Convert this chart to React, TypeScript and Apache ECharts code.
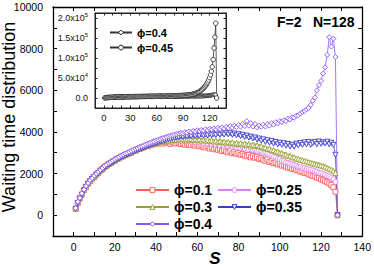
import React, { useEffect, useRef } from 'react';
import * as echarts from 'echarts';

// s = 1..128 (site index)
const sValues: number[] = Array.from({ length: 128 }, (_, i) => i + 1);

const phi01: number[] = [
  310, 590, 810, 990, 1210, 1360, 1520, 1630, 1760, 1840,
  1960, 2030, 2150, 2210, 2320, 2380, 2460, 2500, 2590, 2620,
  2710, 2730, 2810, 2830, 2910, 2920, 2990, 3010, 3090, 3100,
  3170, 3180, 3250, 3260, 3330, 3320, 3400, 3380, 3440, 3430,
  3460, 3490, 3440, 3520, 3480, 3500, 3430, 3510, 3470, 3450,
  3490, 3420, 3460, 3380, 3450, 3400, 3360, 3430, 3340, 3390,
  3310, 3360, 3280, 3250, 3320, 3200, 3260, 3170, 3230, 3140,
  3190, 3080, 3130, 3060, 3020, 3090, 2980, 3030, 2950, 2990,
  2900, 2940, 2870, 2830, 2890, 2780, 2840, 2760, 2800, 2700,
  2740, 2660, 2610, 2680, 2560, 2590, 2500, 2530, 2440, 2470,
  2380, 2400, 2330, 2290, 2310, 2220, 2250, 2160, 2180, 2090,
  2110, 2020, 2040, 1960, 1940, 1880, 1870, 1800, 1790, 1720,
  1700, 1630, 1590, 1520, 1450, 1340, 1130, 0,
];

const phi025: number[] = [
  330, 610, 790, 1010, 1190, 1380, 1500, 1650, 1740, 1860,
  1940, 2060, 2130, 2240, 2300, 2400, 2440, 2530, 2570, 2650,
  2690, 2760, 2790, 2860, 2890, 2950, 2970, 3040, 3070, 3130,
  3150, 3210, 3230, 3290, 3310, 3370, 3380, 3430, 3440, 3490,
  3500, 3530, 3520, 3560, 3540, 3590, 3550, 3600, 3570, 3620,
  3580, 3610, 3560, 3600, 3550, 3590, 3530, 3570, 3510, 3560,
  3500, 3540, 3470, 3520, 3450, 3490, 3430, 3460, 3400, 3440,
  3370, 3410, 3340, 3380, 3310, 3350, 3280, 3320, 3250, 3290,
  3220, 3260, 3190, 3230, 3160, 3200, 3130, 3150, 3090, 3120,
  3060, 3000, 3030, 2940, 2900, 2850, 2800, 2770, 2700, 2680,
  2610, 2600, 2530, 2510, 2470, 2440, 2410, 2380, 2330, 2320,
  2280, 2260, 2220, 2200, 2170, 2150, 2110, 2090, 2040, 2020,
  1970, 1940, 1880, 1840, 1780, 1720, 1600, 0,
];

const phi03: number[] = [
  310, 600, 820, 1000, 1220, 1360, 1520, 1640, 1760, 1840,
  1960, 2040, 2150, 2220, 2320, 2380, 2460, 2510, 2590, 2630,
  2710, 2740, 2810, 2840, 2910, 2930, 2990, 3020, 3090, 3110,
  3170, 3190, 3250, 3270, 3330, 3350, 3400, 3410, 3460, 3470,
  3520, 3510, 3570, 3560, 3610, 3590, 3640, 3610, 3660, 3630,
  3670, 3640, 3680, 3630, 3670, 3620, 3660, 3610, 3650, 3600,
  3640, 3590, 3630, 3580, 3620, 3560, 3600, 3540, 3580, 3520,
  3560, 3500, 3540, 3480, 3520, 3460, 3500, 3440, 3480, 3420,
  3460, 3400, 3440, 3380, 3420, 3350, 3390, 3330, 3370, 3300,
  3320, 3240, 3260, 3180, 3200, 3120, 3130, 3050, 3060, 2980,
  2990, 2920, 2920, 2850, 2850, 2780, 2780, 2720, 2710, 2660,
  2650, 2600, 2590, 2540, 2530, 2490, 2470, 2440, 2420, 2390,
  2360, 2330, 2280, 2240, 2190, 2130, 2030, 0,
];

const phi035: number[] = [
  300, 580, 790, 980, 1180, 1350, 1490, 1620, 1730, 1830,
  1930, 2020, 2110, 2200, 2280, 2360, 2420, 2490, 2550, 2610,
  2670, 2720, 2770, 2820, 2870, 2910, 2960, 3000, 3050, 3090,
  3130, 3170, 3210, 3250, 3290, 3330, 3360, 3400, 3430, 3470,
  3500, 3540, 3560, 3600, 3620, 3660, 3670, 3710, 3720, 3750,
  3740, 3790, 3760, 3820, 3780, 3840, 3790, 3860, 3800, 3850,
  3810, 3880, 3820, 3870, 3830, 3900, 3840, 3890, 3850, 3920,
  3860, 3930, 3870, 3960, 3880, 3940, 3860, 3920, 3840, 3890,
  3800, 3860, 3760, 3820, 3720, 3770, 3680, 3730, 3630, 3680,
  3580, 3640, 3520, 3600, 3480, 3560, 3440, 3520, 3400, 3480,
  3380, 3460, 3340, 3420, 3300, 3380, 3290, 3440, 3350, 3470,
  3380, 3500, 3400, 3520, 3380, 3460, 3520, 3410, 3540, 3430,
  3500, 3440, 3530, 3400, 3480, 3380, 2900, 0,
];

const phi04: number[] = [
  340, 640, 830, 1050, 1230, 1400, 1540, 1680, 1780, 1890,
  1990, 2090, 2180, 2270, 2360, 2430, 2500, 2560, 2630, 2690,
  2750, 2800, 2860, 2900, 2960, 3000, 3040, 3090, 3140, 3190,
  3230, 3280, 3310, 3350, 3400, 3440, 3470, 3520, 3550, 3590,
  3620, 3660, 3700, 3720, 3760, 3790, 3820, 3840, 3870, 3900,
  3920, 3950, 3930, 3990, 3960, 4020, 3990, 4050, 4010, 4080,
  4040, 4100, 4060, 4130, 4080, 4150, 4110, 4170, 4120, 4190,
  4140, 4220, 4160, 4240, 4190, 4280, 4200, 4300, 4230, 4330,
  4250, 4380, 4280, 4520, 4300, 4420, 4260, 4380, 4220, 4300,
  4240, 4350, 4260, 4380, 4300, 4420, 4350, 4470, 4400, 4520,
  4480, 4560, 4520, 4640, 4600, 4700, 4680, 4780, 4800, 4880,
  4950, 5000, 5080, 5150, 5300, 5500, 5650, 6000, 6250, 6450,
  6800, 7100, 7700, 8550, 8100, 8480, 7600, 0,
];

const phi045: number[] = [
  300, 620, 830, 1040, 1230, 1400, 1530, 1670, 1780, 1880,
  1980, 2080, 2170, 2260, 2350, 2420, 2490, 2560, 2620, 2690,
  2750, 2810, 2860, 2920, 2970, 3020, 3070, 3120, 3170, 3220,
  3260, 3310, 3350, 3400, 3440, 3480, 3520, 3560, 3600, 3640,
  3680, 3720, 3760, 3800, 3840, 3870, 3910, 3950, 3980, 4020,
  4050, 4090, 4120, 4160, 4190, 4230, 4260, 4300, 4330, 4370,
  4400, 4440, 4480, 4520, 4560, 4600, 4640, 4690, 4730, 4780,
  4820, 4870, 4920, 4970, 5020, 5080, 5140, 5200, 5260, 5330,
  5400, 5480, 5560, 5650, 5740, 5840, 5950, 6070, 6200, 6350,
  6500, 6680, 6870, 7080, 7300, 7550, 7830, 8150, 8500, 8900,
  9400, 9950, 10600, 11300, 12100, 13000, 14000, 15200, 16600, 18200,
  20000, 22000, 24300, 26800, 29500, 32500, 36000, 40000, 45000, 51000,
  58000, 67000, 78000, 96000, 125000, 152000, 187000, 0,
];

const seriesNames = ['ϕ=0.1', 'ϕ=0.25', 'ϕ=0.3', 'ϕ=0.35', 'ϕ=0.4'];
const insetNames = ['ϕ=0.4', 'ϕ=0.45'];
const mainXTicks = [0, 20, 40, 60, 80, 100, 120, 140];
const mainYTicks = [0, 2000, 4000, 6000, 8000, 10000];
const insetXTicks = [0, 30, 60, 90, 120];
const insetYLabels: Record<number, string> = {
  0: '0.0',
  50000: '{m|5.0x10}{e|4}',
  100000: '{m|1.0x10}{e|5}',
  150000: '{m|1.5x10}{e|5}',
  200000: '{m|2.0x10}{e|5}',
};

const FONT = '"Liberation Sans", Arial, Helvetica, sans-serif';

const App: React.FC = () => {
  const ref = useRef<HTMLDivElement>(null);

  useEffect(() => {
    if (!ref.current) return;
    const chart = echarts.init(ref.current, undefined, { renderer: 'svg' });

    const toPts = (arr: number[]) => arr.map((v, i) => [sValues[i], v]);

    const mainSeries = (
      name: string,
      arr: number[],
      color: string,
      symbol: string,
      rotate = 0,
    ) => ({
      type: 'line',
      name,
      data: toPts(arr),
      xAxisIndex: 0,
      yAxisIndex: 0,
      symbol,
      symbolSize: 5,
      symbolRotate: rotate,
      showSymbol: true,
      lineStyle: { color, width: 0.8 },
      itemStyle: { color: '#fff', borderColor: color, borderWidth: 0.9 },
      emphasis: { disabled: true },
      silent: true,
      z: 3,
    });

    const insetSeries = (name: string, arr: number[], symbol: string) => ({
      type: 'line',
      name,
      data: toPts(arr),
      xAxisIndex: 2,
      yAxisIndex: 2,
      symbol,
      symbolSize: 4.5,
      showSymbol: true,
      lineStyle: { color: '#333', width: 0.8 },
      itemStyle: { color: '#fff', borderColor: '#222', borderWidth: 0.8 },
      emphasis: { disabled: true },
      silent: true,
      z: 12,
    });

    const axisLine = { show: true, onZero: false, lineStyle: { color: '#000', width: 1.3 } };
    const insetLine = { show: true, onZero: false, lineStyle: { color: '#222', width: 1 } };
    const legendText = { fontFamily: FONT, fontSize: 14, fontWeight: 'bold', color: '#000' };
    const legendItem = { color: '#fff', borderWidth: 1 };

    chart.setOption({
      animation: false,
      backgroundColor: '#fff',
      textStyle: { fontFamily: FONT },
      grid: [
        { left: 53, right: 11, top: 7, bottom: 30 },
        {
          left: 95, right: 148, top: 13, bottom: 158, show: true,
          backgroundColor: '#fff', borderColor: '#222', borderWidth: 1, z: 10,
        },
      ],
      xAxis: [
        {
          type: 'value', gridIndex: 0, min: -10, max: 140, interval: 10,
          axisLine, splitLine: { show: false },
          axisTick: { inside: true, length: 4, lineStyle: { color: '#000' } },
          axisLabel: {
            fontSize: 10.5, color: '#000', margin: 5, fontFamily: FONT,
            formatter: (v: number) => (mainXTicks.includes(v) ? String(v) : ''),
          },
        },
        {
          type: 'value', gridIndex: 0, position: 'top', min: -10, max: 140, interval: 10,
          axisLine, splitLine: { show: false },
          axisTick: { inside: true, length: 4, lineStyle: { color: '#000' } },
          axisLabel: { show: false },
        },
        {
          type: 'value', gridIndex: 1, min: -10, max: 138.6, interval: 10, z: 13,
          axisLine: insetLine, splitLine: { show: false },
          axisTick: { inside: true, length: 2.5, lineStyle: { color: '#222' } },
          axisLabel: {
            fontSize: 9.5, color: '#111', margin: 4, fontFamily: FONT,
            formatter: (v: number) => (insetXTicks.includes(v) ? String(v) : ''),
          },
        },
        {
          type: 'value', gridIndex: 1, position: 'top', min: -10, max: 138.6, interval: 10, z: 13,
          axisLine: insetLine, splitLine: { show: false },
          axisTick: { inside: true, length: 2.5, lineStyle: { color: '#222' } },
          axisLabel: { show: false },
        },
      ],
      yAxis: [
        {
          type: 'value', gridIndex: 0, min: -1000, max: 10000, interval: 1000,
          axisLine, splitLine: { show: false },
          axisTick: { inside: true, length: 4, lineStyle: { color: '#000' } },
          axisLabel: {
            fontSize: 10.5, color: '#000', margin: 10, fontFamily: FONT,
            formatter: (v: number) => (mainYTicks.includes(v) ? String(v) : ''),
          },
        },
        {
          type: 'value', gridIndex: 0, position: 'right', min: -1000, max: 10000, interval: 1000,
          axisLine, splitLine: { show: false },
          axisTick: { inside: true, length: 4, lineStyle: { color: '#000' } },
          axisLabel: { show: false },
        },
        {
          type: 'value', gridIndex: 1, min: -25000, max: 212500, interval: 25000, z: 13,
          axisLine: insetLine, splitLine: { show: false },
          axisTick: { inside: true, length: 2.5, lineStyle: { color: '#222' } },
          axisLabel: {
            fontSize: 9, color: '#111', margin: 7, fontFamily: FONT,
            formatter: (v: number) => insetYLabels[v] ?? '',
            rich: {
              m: { fontSize: 9, fontFamily: FONT, color: '#111', lineHeight: 12 },
              e: { fontSize: 6, fontFamily: FONT, color: '#111', verticalAlign: 'top', lineHeight: 12 },
            },
          },
        },
        {
          type: 'value', gridIndex: 1, position: 'right', min: -25000, max: 212500, interval: 25000, z: 13,
          axisLine: insetLine, splitLine: { show: false },
          axisTick: { inside: true, length: 2.5, lineStyle: { color: '#222' } },
          axisLabel: { show: false },
        },
      ],
      legend: [
        {
          data: [seriesNames[0], seriesNames[2], seriesNames[4]],
          orient: 'vertical', left: 130, top: 178, itemWidth: 33, itemHeight: 6, itemGap: 3,
          textStyle: legendText, selectedMode: false, itemStyle: legendItem,
        },
        {
          data: [seriesNames[1], seriesNames[3]],
          orient: 'vertical', left: 212, top: 178, itemWidth: 33, itemHeight: 6, itemGap: 3,
          textStyle: legendText, selectedMode: false, itemStyle: legendItem,
        },
        {
          data: ['inset04', 'inset045'],
          formatter: (n: string) => (n === 'inset04' ? insetNames[0] : insetNames[1]),
          orient: 'vertical', left: 104, top: 22, itemWidth: 22, itemHeight: 6, itemGap: 4,
          textStyle: { fontFamily: FONT, fontSize: 11, fontWeight: 'bold', color: '#000' },
          selectedMode: false, z: 14, itemStyle: legendItem,
        },
      ],
      graphic: [
        {
          type: 'text', x: 9, y: 117, rotation: Math.PI / 2,
          style: {
            text: 'Waiting time distribution',
            fontFamily: FONT, fontSize: 18, fill: '#000',
            align: 'center', verticalAlign: 'middle',
          },
        },
        {
          type: 'text', x: 215, y: 258,
          style: {
            text: 'S', fontFamily: FONT, fontSize: 17, fontWeight: 'bold', fontStyle: 'italic',
            fill: '#000', align: 'center', verticalAlign: 'middle',
          },
        },
        {
          type: 'text', x: 277, y: 22,
          style: {
            text: 'F=2', fontFamily: FONT, fontSize: 14, fontWeight: 'bold',
            fill: '#000', align: 'left', verticalAlign: 'middle',
          },
        },
        {
          type: 'text', x: 313, y: 22,
          style: {
            text: 'N=128', fontFamily: FONT, fontSize: 14, fontWeight: 'bold',
            fill: '#000', align: 'left', verticalAlign: 'middle',
          },
        },
      ],
      series: [
        mainSeries(seriesNames[0], phi01, '#ff5c5c', 'rect'),
        mainSeries(seriesNames[1], phi025, '#e07ff0', 'circle'),
        mainSeries(seriesNames[2], phi03, '#97a031', 'triangle'),
        mainSeries(seriesNames[3], phi035, '#3c3cc8', 'triangle', 180),
        mainSeries(seriesNames[4], phi04, '#8c55f0', 'diamond'),
        insetSeries('inset04', phi04, 'diamond'),
        insetSeries('inset045', phi045, 'circle'),
      ],
    });

    return () => chart.dispose();
  }, []);

  return (
    <div
      ref={ref}
      style={{ position: 'absolute', left: 0, top: 0, width: 374, height: 266 }}
    />
  );
};

export default App;
